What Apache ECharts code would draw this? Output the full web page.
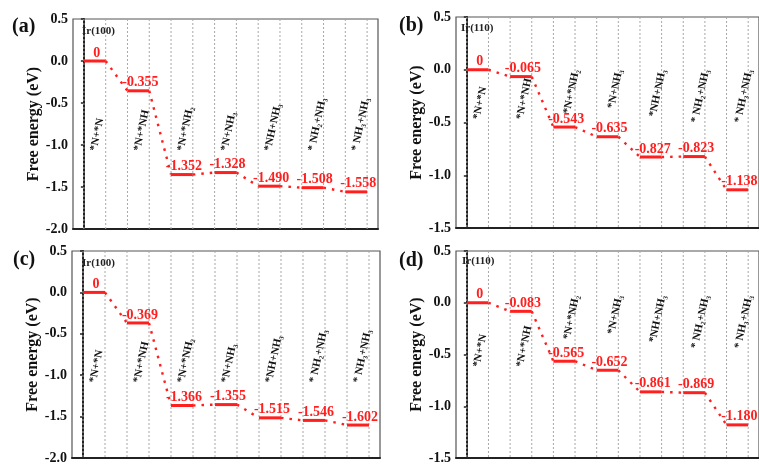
<!DOCTYPE html>
<html><head><meta charset="utf-8">
<script src="https://cdn.jsdelivr.net/npm/echarts@6/dist/echarts.min.js"></script>
<style>html,body{margin:0;padding:0;background:#fff}#c{width:759px;height:465px}</style>
</head><body><div id="c"></div>
<script>
// ---- data ----
const steps = ['*N+*N', '*N+*NH', '*N+*NH\u2082', '*N+NH\u2083', '*NH+NH\u2083', '* NH\u2082+NH\u2083', '* NH\u2083+NH\u2083'];
const energyA = [0, -0.355, -1.352, -1.328, -1.490, -1.508, -1.558];
const energyB = [0, -0.065, -0.543, -0.635, -0.827, -0.823, -1.138];
const energyC = [0, -0.369, -1.366, -1.355, -1.515, -1.546, -1.602];
const energyD = [0, -0.083, -0.565, -0.652, -0.861, -0.869, -1.180];
const panelTags = ['(a)', '(b)', '(c)', '(d)'];
const surfaces = ['Ir(100)', 'Ir(110)', 'Ir(100)', 'Ir(110)'];
const yRange100 = [-2.0, 0.5];
const yRange110 = [-1.5, 0.5];
const yStep = 0.5;
const yName = 'Free energy (eV)';

// ---- layout / style ----
const FONT = '"Liberation Serif","Times New Roman",serif';
const RED = '#ff1f1f';
const panels = [
  {tag: panelTags[0], surf: surfaces[0], data: energyA, yr: yRange100,
   grid: {left: 73, top: 19, width: 305, height: 210}, tagPos: [12, 17], surfPos: [82, 26],
   lab: {mode: 'low', yLow: -1.07}},
  {tag: panelTags[1], surf: surfaces[1], data: energyB, yr: yRange110,
   grid: {left: 456, top: 17, width: 305, height: 211}, tagPos: [399, 16], surfPos: [461, 23],
   lab: {mode: 'split', yLow: -0.47, yHigh: 0.0}},
  {tag: panelTags[2], surf: surfaces[2], data: energyC, yr: yRange100,
   grid: {left: 72, top: 251, width: 308, height: 209}, tagPos: [13, 250], surfPos: [82, 258],
   lab: {mode: 'low', yLow: -1.09}},
  {tag: panelTags[3], surf: surfaces[3], data: energyD, yr: yRange110,
   grid: {left: 456, top: 251, width: 305, height: 208}, tagPos: [399, 251], surfPos: [462, 256],
   lab: {mode: 'split', yLow: -0.62, yHigh: 0.07}}
];

const option = {
  backgroundColor: '#fff',
  animation: false,
  title: [], grid: [], xAxis: [], yAxis: [], series: []
};

panels.forEach((p, k) => {
  option.grid.push(Object.assign({show: true, borderColor: '#555', borderWidth: 1.2, backgroundColor: 'transparent'}, p.grid));
  option.title.push({text: p.tag, left: p.tagPos[0], top: p.tagPos[1], padding: 0,
    textStyle: {fontFamily: FONT, fontWeight: 'bold', fontSize: 20, color: '#111'}});
  option.title.push({text: p.surf, left: p.surfPos[0], top: p.surfPos[1], padding: 0,
    textStyle: {fontFamily: FONT, fontWeight: 'bold', fontSize: 11, color: '#222'}});
  option.xAxis.push({type: 'value', gridIndex: k, min: -0.5, max: 2 * p.data.length - 0.5,
    axisLabel: {show: false}, axisTick: {show: false}, splitLine: {show: false},
    axisLine: {show: true, onZero: false, lineStyle: {color: '#222', width: 2}}});
  option.yAxis.push({type: 'value', gridIndex: k, min: p.yr[0], max: p.yr[1], interval: yStep,
    name: yName, nameLocation: 'middle', nameGap: 31, nameRotate: 90,
    nameTextStyle: {fontFamily: FONT, fontWeight: 'bold', fontSize: 16, color: '#111'},
    axisLine: {show: true, lineStyle: {color: '#222', width: 2}},
    axisTick: {show: true, inside: false, length: 3, lineStyle: {color: '#222', width: 1.5}},
    splitLine: {show: false},
    axisLabel: {margin: 5, fontFamily: FONT, fontWeight: 'bold', fontSize: 14, color: '#111',
      formatter: v => v.toFixed(1)}});

  // vertical dashed guide lines at both ends of each level
  const guides = [];
  p.data.forEach((v, i) => { guides.push([2 * i, p.yr[0]]); guides.push([2 * i + 1, p.yr[0]]); });
  option.series.push({type: 'custom', xAxisIndex: k, yAxisIndex: k, silent: true, z: 1,
    data: guides,
    renderItem: (params, api) => {
      const a = api.coord([api.value(0), p.yr[1]]);
      const b = api.coord([api.value(0), p.yr[0]]);
      return {type: 'line', shape: {x1: a[0], y1: a[1], x2: b[0], y2: b[1]},
        style: {stroke: '#a8a8a8', lineWidth: 1, lineDash: [2, 2]}};
    }});

  // dotted connectors
  const conns = [];
  for (let i = 0; i < p.data.length - 1; i++) conns.push([i, p.data[i], p.data[i + 1]]);
  option.series.push({type: 'custom', xAxisIndex: k, yAxisIndex: k, silent: true, z: 3,
    data: conns,
    renderItem: (params, api) => {
      const i = api.value(0);
      const a = api.coord([2 * i + 1, api.value(1)]);
      const b = api.coord([2 * i + 2, api.value(2)]);
      return {type: 'line', shape: {x1: a[0], y1: a[1], x2: b[0], y2: b[1]},
        style: {stroke: RED, lineWidth: 2.4, lineDash: [2.5, 6]}};
    }});

  // levels, value labels, state labels
  option.series.push({type: 'custom', xAxisIndex: k, yAxisIndex: k, silent: true, z: 4,
    data: p.data.map((v, i) => [i, v]),
    renderItem: (params, api) => {
      const i = api.value(0), v = api.value(1);
      const a = api.coord([2 * i, v]);
      const b = api.coord([2 * i + 1, v]);
      const cx = (a[0] + b[0]) / 2;
      const txt = v === 0 ? '0' : v.toFixed(3);
      const top = p.lab.mode === 'split' && i >= 2;
      const ly = api.coord([0, top ? p.lab.yHigh : p.lab.yLow])[1];
      return {type: 'group', children: [
        {type: 'line', shape: {x1: a[0], y1: a[1], x2: b[0], y2: b[1]},
          style: {stroke: RED, lineWidth: 3}},
        {type: 'text', x: cx + 2, y: a[1] - 1,
          style: {text: txt, fill: RED, fontFamily: FONT, fontWeight: 'bold', fontSize: 14,
            align: 'center', verticalAlign: 'bottom'}},
        {type: 'text', x: top ? cx + 12 : cx - 1, y: ly, rotation: 78 * Math.PI / 180,
          style: {text: steps[i], fill: '#111', fontFamily: FONT, fontWeight: 'bold', fontSize: 11,
            align: top ? 'right' : 'left', verticalAlign: 'middle'}}
      ]};
    }});
});

const chart = echarts.init(document.getElementById('c'), null, {renderer: 'canvas'});
chart.setOption(option);
</script></body></html>
